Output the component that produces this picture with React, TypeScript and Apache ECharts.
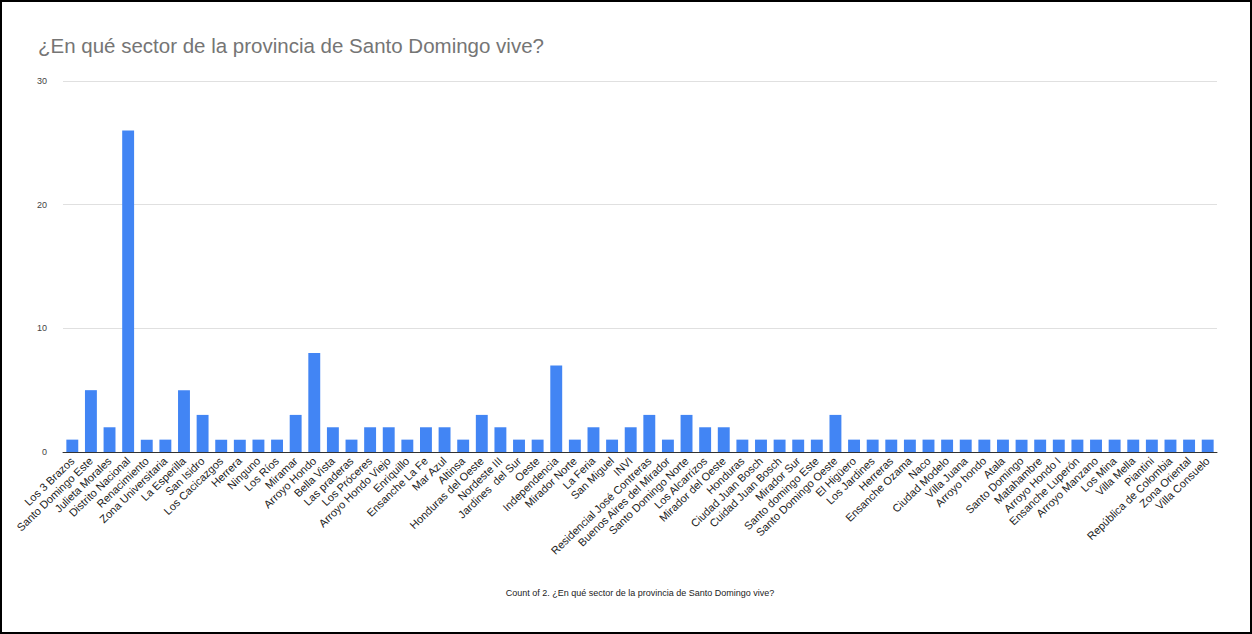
import React, { useEffect, useRef } from "react";
import * as echarts from "echarts";

const categories: string[] = [
  "Los 3 Brazos", "Santo Domingo Este", "Julieta Morales", "Distrito Nacional", "Renacimiento",
  "Zona Universitaria", "La Esperilla", "San Isidro", "Los Cacicazgos", "Herrera",
  "Ninguno", "Los Ríos", "Miramar", "Arroyo Hondo", "Bella Vista",
  "Las praderas", "Los Próceres", "Arroyo Hondo Viejo", "Enriquillo", "Ensanche La Fe",
  "Mar Azul", "Altinsa", "Honduras del Oeste", "Nordeste III", "Jardines  del Sur",
  "Oeste", "Independencia", "Mirador Norte", "La Feria", "San Miguel",
  "INVI", "Residencial José Contreras", "Buenos Aires del Mirador", "Santo Domingo Norte", "Los Alcarrizos",
  "Mirador del Oeste", "Honduras", "Ciudad Juan Bosch", "Cuidad Juan Bosch", "Mirador Sur",
  "Santo domingo Este", "Santo Domingo Oeste", "El Higüero", "Los Jardines", "Herreras",
  "Ensanche Ozama", "Naco", "Ciudad Modelo", "Villa Juana", "Arroyo hondo",
  "Atala", "Santo Domingo", "Matahambre", "Arroyo Hondo I", "Ensanche Luperón",
  "Arroyo Manzano", "Los Mina", "Villa Mella", "Piantini", "República de Colombia",
  "Zona Oriental", "Villa Consuelo",
];

const counts: number[] = [
  1, 5, 2, 26, 1,
  1, 5, 3, 1, 1,
  1, 1, 3, 8, 2,
  1, 2, 2, 1, 2,
  2, 1, 3, 2, 1,
  1, 7, 1, 2, 1,
  2, 3, 1, 3, 2,
  2, 1, 1, 1, 1,
  1, 3, 1, 1, 1,
  1, 1, 1, 1, 1,
  1, 1, 1, 1, 1,
  1, 1, 1, 1, 1,
  1, 1,
];

const titleText = "¿En qué sector de la provincia de Santo Domingo vive?";
const xAxisTitle = "Count of 2. ¿En qué sector de la provincia de Santo Domingo vive?";

export default function App() {
  const ref = useRef<HTMLDivElement>(null);
  useEffect(() => {
    if (!ref.current) return;
    const chart = echarts.init(ref.current, undefined, { renderer: "svg" });
    chart.setOption({
      animation: false,
      backgroundColor: "#ffffff",
      textStyle: { fontFamily: "Liberation Sans, Arial, sans-serif" },
      title: {
        text: titleText,
        left: 31,
        top: 28,
        textStyle: { fontSize: 20.5, fontWeight: "normal", color: "#757575" },
      },
      grid: { left: 61, right: 33, top: 79, bottom: 180 },
      xAxis: {
        type: "category",
        data: categories,
        axisTick: { show: false },
        axisLine: { lineStyle: { color: "#333333", width: 1 } },
        axisLabel: {
          interval: 0,
          rotate: 44,
          fontSize: 11,
          color: "#222222",
          margin: 7,
        },
        name: xAxisTitle,
        nameLocation: "middle",
        nameGap: 136,
        nameTextStyle: { fontSize: 9, color: "#222222" },
      },
      yAxis: {
        type: "value",
        min: 0,
        max: 30,
        interval: 10,
        axisLine: { show: false },
        axisTick: { show: false },
        axisLabel: { fontSize: 9, color: "#444444", margin: 16 },
        splitLine: { lineStyle: { color: "#e0e0e0", width: 1 } },
      },
      series: [
        {
          type: "bar",
          data: counts,
          barCategoryGap: "36%",
          itemStyle: { color: "#4285F4" },
        },
      ],
    });
    return () => chart.dispose();
  }, []);
  return (
    <div
      style={{
        position: "fixed",
        left: 0,
        top: 0,
        width: 1252,
        height: 634,
        boxSizing: "border-box",
        border: "2px solid #000",
        background: "#fff",
      }}
    >
      <div ref={ref} style={{ width: 1248, height: 630 }} />
    </div>
  );
}
